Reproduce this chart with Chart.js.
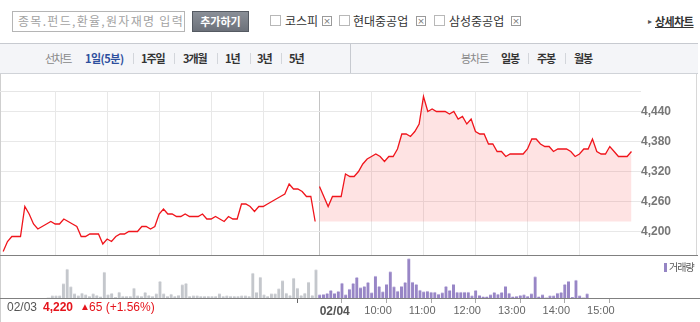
<!DOCTYPE html>
<html>
<head>
<meta charset="utf-8">
<script src="https://cdn.jsdelivr.net/npm/chart.js@4.4.1/dist/chart.umd.min.js"></script>
<style>
body { margin: 0; background: #fff; }
#wrap { position: relative; width: 700px; height: 322px; overflow: hidden; font-family: "Noto Sans CJK KR", sans-serif; }
.a { position: absolute; white-space: nowrap; }
.chk { width: 9px; height: 9px; border: 1px solid #b8b8b8; background: #fff; }
.xb { width: 8px; height: 8px; border: 1px solid #9a9a9a; font: 9px/8px "DejaVu Sans", sans-serif; color: #777; text-align: center; }
.lbl { font-size: 12px; line-height: 16px; color: #333; }
.tab { font-size: 11px; line-height: 16px; font-weight: bold; color: #333; top: 50px; }
.sep { width: 1px; height: 11px; background: #d3d6db; top: 53px; }
.num { font-family: "Liberation Sans", Arial, sans-serif; font-size: 12px; line-height: 14px; top: 300px; }
</style>
</head>
<body>
<div id="wrap">
  <!-- top search bar -->
  <div class="a" style="left:12px;top:11px;width:171px;height:19px;border:1px solid #b5b5b5;"></div>
  <div class="a" style="left:18px;top:13px;font-size:12px;line-height:16px;color:#a3a3a3;letter-spacing:1.3px;">종목.펀드,환율,원자재명 입력</div>
  <div class="a" style="left:192px;top:11px;width:55px;height:19px;border:1px solid #555a62;background:linear-gradient(#8a8f97,#6c717a);color:#fff;font-size:11px;font-weight:bold;line-height:19px;text-align:center;">추가하기</div>

  <div class="a chk" style="left:270px;top:15px;"></div>
  <div class="a lbl" style="left:285px;top:13px;">코스피</div>
  <div class="a xb" style="left:322px;top:16px;">×</div>
  <div class="a chk" style="left:339px;top:15px;"></div>
  <div class="a lbl" style="left:353px;top:13px;">현대중공업</div>
  <div class="a xb" style="left:416px;top:16px;">×</div>
  <div class="a chk" style="left:434px;top:15px;"></div>
  <div class="a lbl" style="left:449px;top:13px;">삼성중공업</div>
  <div class="a xb" style="left:511px;top:16px;">×</div>
  <div class="a" style="left:648px;top:14px;font-size:8px;line-height:14px;color:#555;">▸</div>
  <div class="a" style="left:655px;top:13px;font-size:11px;line-height:16px;font-weight:bold;color:#333;text-decoration:underline;letter-spacing:-0.5px;">상세차트</div>

  <!-- tab bar -->
  <div class="a" style="left:0;top:43px;width:698px;height:29px;background:#f4f5f8;border-top:1px solid #c7cad0;border-bottom:1px solid #d0d3d8;"></div>
  <div class="a" style="left:350px;top:44px;width:1px;height:29px;background:#c7cad0;"></div>
  <div class="a tab" style="left:45px;font-weight:normal;color:#888;letter-spacing:-1.5px;">선차트</div>
  <div class="a tab" style="left:85px;color:#2d4f9e;letter-spacing:-0.5px;">1일(5분)</div>
  <div class="a sep" style="left:133px;"></div>
  <div class="a tab" style="left:141px;letter-spacing:-1px;">1주일</div>
  <div class="a sep" style="left:174px;"></div>
  <div class="a tab" style="left:183px;letter-spacing:-1px;">3개월</div>
  <div class="a sep" style="left:217px;"></div>
  <div class="a tab" style="left:225px;letter-spacing:-1px;">1년</div>
  <div class="a sep" style="left:250px;"></div>
  <div class="a tab" style="left:257px;letter-spacing:-1px;">3년</div>
  <div class="a sep" style="left:281px;"></div>
  <div class="a tab" style="left:289px;letter-spacing:-1px;">5년</div>
  <div class="a tab" style="left:461px;font-weight:normal;color:#888;letter-spacing:-1px;">봉차트</div>
  <div class="a tab" style="left:501px;letter-spacing:-1px;">일봉</div>
  <div class="a sep" style="left:528px;"></div>
  <div class="a tab" style="left:537px;letter-spacing:-1px;">주봉</div>
  <div class="a sep" style="left:565px;"></div>
  <div class="a tab" style="left:574px;letter-spacing:-1px;">월봉</div>

  <!-- chart frame -->
  <div class="a" style="left:0;top:74px;width:1px;height:248px;background:#cfcfcf;"></div>
  <div class="a" style="left:696px;top:74px;width:1px;height:181px;background:#d8d8d8;"></div>

  <canvas id="price" class="a" width="700" height="180" style="left:0;top:75px;"></canvas>
  <canvas id="vol" class="a" width="700" height="67" style="left:0;top:255px;"></canvas>

  <div class="a" style="left:0;top:255px;width:698px;height:1px;background:#808080;"></div>
  <div class="a" style="left:0;top:298px;width:700px;height:1px;background:#808080;"></div>

  <!-- volume legend -->
  <div class="a" style="left:664px;top:263px;width:3px;height:9px;background:#9585c4;"></div>
  <div class="a" style="left:669px;top:260px;font-size:10px;line-height:14px;color:#555;letter-spacing:-1px;">거래량</div>

  <!-- previous day summary -->
  <div class="a num" style="left:7px;color:#555;">02/03</div>
  <div class="a num" style="left:43px;color:#e5141c;font-weight:bold;">4,220</div>
  <div class="a num" style="left:80px;color:#e5141c;font-size:10px;">▲</div>
  <div class="a num" style="left:89px;color:#e5141c;">65 (+1.56%)</div>
</div>

<script>
// 5-minute prices, 02/03 (09:00 ~ 15:00) and 02/04 (09:00 ~ 15:00)
const day1Price = [
  4160, 4180, 4190, 4190, 4190, 4250, 4235, 4215, 4205, 4210,
  4215, 4220, 4215, 4215, 4225, 4220, 4215, 4210, 4190, 4190,
  4195, 4195, 4195, 4175, 4185, 4180, 4190, 4195, 4195, 4200,
  4200, 4200, 4210, 4210, 4205, 4210, 4235, 4245, 4235, 4235,
  4230, 4230, 4235, 4230, 4230, 4230, 4235, 4225, 4225, 4230,
  4225, 4220, 4230, 4225, 4225, 4255, 4255, 4250, 4240, 4250,
  4250, 4255, 4260, 4265, 4270, 4275, 4295, 4285, 4285, 4280,
  4270, 4270, 4220
];
const day2Price = [
  4290, 4270, 4250, 4270, 4270, 4270, 4315, 4310, 4310, 4320,
  4335, 4345, 4350, 4355, 4350, 4340, 4350, 4350, 4365, 4395,
  4395, 4390, 4400, 4415, 4470, 4440, 4445, 4440, 4440, 4440,
  4435, 4440, 4425, 4430, 4415, 4425, 4400, 4395, 4395, 4375,
  4375, 4360, 4360, 4350, 4355, 4355, 4355, 4355, 4365, 4385,
  4385, 4375, 4370, 4370, 4360, 4365, 4365, 4365, 4360, 4350,
  4355, 4365, 4365, 4385, 4360, 4355, 4355, 4370, 4360, 4350,
  4350, 4350, 4360
];
// volume per 5 minutes (relative units)
const day1Volume = [
  0, 2.3, 2.3, 2.3, 14.3, 29, 11.3, 4.3, 2.3, 5,
  3.3, 1.7, 4.3, 2.7, 1.3, 26, 3.3, 4.7, 0.7, 6,
  2, 1.7, 1.7, 10, 2.3, 1.7, 5.7, 2.7, 1.7, 4.3,
  16.7, 4.3, 1.7, 4, 1.7, 2.7, 13.3, 14.7, 1.7, 2.3,
  2.3, 1.7, 1.7, 1.7, 1.7, 1.7, 4.3, 1.7, 2.3, 2,
  1.7, 1.7, 2.3, 2.3, 1.7, 25, 5.7, 21, 3.3, 1.7,
  4.3, 4.3, 9.3, 17.3, 5, 2.7, 20, 10, 2.7, 5,
  16, 2.7, 28.3
];
const day2Volume = [
  3.3, 3.7, 4.7, 7.7, 4.7, 6.7, 15, 3.3, 9, 14.7,
  20.7, 10.3, 11.7, 15.7, 5.3, 22, 11.7, 6.3, 13.7, 26.3,
  11.3, 7, 11.7, 15.7, 39.3, 16, 13.7, 8, 6.3, 7,
  6, 6, 4, 5.3, 11.7, 7.7, 13.7, 6, 6, 6,
  6, 2.3, 7.7, 2.7, 1.3, 1.3, 3.3, 5.7, 4, 5.7,
  11.7, 5, 1.3, 1.7, 2.7, 3.3, 1.7, 4.3, 21.5, 1.3,
  3.3, 0, 2.3, 2.3, 5, 5.7, 13.7, 16.7, 0.7, 18,
  2.3, 0, 4.3
];
const prevClose = 4220;
const priceTicks = [4200, 4260, 4320, 4380, 4440];
const hourGrid = [12, 24, 36, 48, 60, 73, 85, 97, 109, 121, 133];
const dayStart = 73;
const timeTicks = [73, 85, 97, 109, 121, 133, 145];
const timeLabels = ['02/04', '10:00', '11:00', '12:00', '13:00', '14:00', '15:00'];

Chart.defaults.font.family = '"Liberation Sans", Arial, sans-serif';
Chart.defaults.animation = false;

const xRange = { min: -0.5, max: 147.2 };
const d1 = day1Price.map((v, i) => ({ x: i, y: v }));
const d2 = day2Price.map((v, i) => ({ x: i + day1Price.length, y: v }));

// no label overflow padding, the frame is fixed
const noPad = (s) => { s.paddingTop = 0; s.paddingBottom = 0; s.paddingLeft = 0; s.paddingRight = 0; };

const topLine = {
  id: 'topLine',
  beforeDraw(chart) {
    const { ctx, chartArea } = chart;
    ctx.save();
    ctx.strokeStyle = '#e6e6e6';
    ctx.lineWidth = 1;
    ctx.beginPath();
    ctx.moveTo(0, chartArea.top + 0.5);
    ctx.lineTo(chartArea.right, chartArea.top + 0.5);
    ctx.stroke();
    ctx.restore();
  }
};

new Chart(document.getElementById('price'), {
  type: 'line',
  data: {
    datasets: [{
      data: d1,
      borderColor: '#f0151c',
      borderWidth: 1.3,
      pointRadius: 0,
      fill: false
    }, {
      data: d2,
      borderColor: '#f0151c',
      borderWidth: 1.3,
      pointRadius: 0,
      fill: { target: { value: prevClose } },
      backgroundColor: 'rgba(250, 40, 40, 0.13)'
    }]
  },
  options: {
    responsive: false,
    layout: { padding: { top: 16, left: 1, right: 0, bottom: 0 } },
    plugins: { legend: { display: false }, tooltip: { enabled: false } },
    scales: {
      x: {
        type: 'linear',
        min: xRange.min,
        max: xRange.max,
        afterBuildTicks: (s) => { s.ticks = hourGrid.map(v => ({ value: v })); },
        afterFit: (s) => { s.height = 0; noPad(s); },
        ticks: { display: false },
        grid: {
          drawTicks: false,
          color: (c) => c.tick && c.tick.value === dayStart ? '#c4c4c4' : '#e8e8e8'
        },
        border: { display: false }
      },
      y: {
        position: 'right',
        min: 4153,
        max: 4481,
        afterBuildTicks: (s) => { s.ticks = priceTicks.map(v => ({ value: v })); },
        afterFit: (s) => { s.width = 59; noPad(s); },
        ticks: {
          padding: 0,
          color: '#777',
          font: { size: 12, weight: 'bold' },
          callback: (v) => v.toLocaleString('en-US')
        },
        grid: { drawTicks: false, color: '#e8e8e8' },
        border: { display: false }
      }
    }
  },
  plugins: [topLine]
});

new Chart(document.getElementById('vol'), {
  type: 'bar',
  data: {
    datasets: [{
      data: day1Volume.map((v, i) => ({ x: i, y: v })),
      backgroundColor: '#c4c7cc',
      borderColor: '#dfe0e3',
      borderWidth: { top: 1, left: 0, right: 0, bottom: 0 },
      borderSkipped: 'bottom',
      barThickness: 3,
      grouped: false
    }, {
      data: day2Volume.map((v, i) => ({ x: i + day1Volume.length, y: v })),
      backgroundColor: '#9886c6',
      borderColor: '#cbc1e4',
      borderWidth: { top: 1, left: 0, right: 0, bottom: 0 },
      borderSkipped: 'bottom',
      barThickness: 3,
      grouped: false
    }]
  },
  options: {
    responsive: false,
    layout: { padding: { top: 3, left: 1, right: 59, bottom: 0 } },
    plugins: { legend: { display: false }, tooltip: { enabled: false } },
    scales: {
      x: {
        type: 'linear',
        min: xRange.min,
        max: xRange.max,
        afterBuildTicks: (s) => { s.ticks = timeTicks.map(v => ({ value: v })); },
        afterFit: (s) => { s.height = 24; noPad(s); },
        ticks: {
          autoSkip: false,
          maxRotation: 0,
          align: 'start',
          padding: 1,
          callback: (v) => timeLabels[timeTicks.indexOf(v)],
          color: (c) => c.tick && c.tick.value === dayStart ? '#555' : '#666',
          font: (c) => c.tick && c.tick.value === dayStart ? { size: 12, weight: 'bold' } : { size: 11 }
        },
        grid: {
          drawOnChartArea: false,
          drawTicks: true,
          tickLength: 5,
          color: (c) => c.tick && c.tick.value === dayStart ? '#666' : '#aaa'
        },
        border: { display: false }
      },
      y: { display: false, min: 0, max: 40 }
    }
  }
});
</script>
</body>
</html>
